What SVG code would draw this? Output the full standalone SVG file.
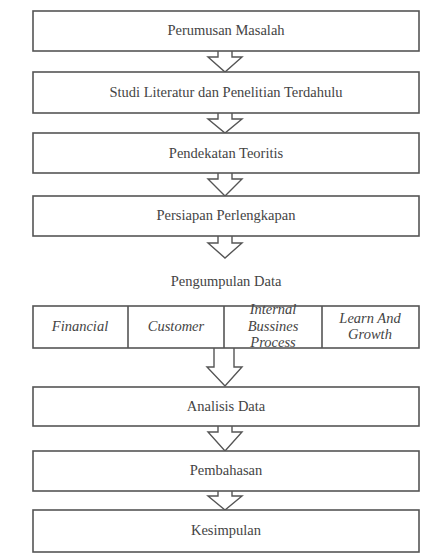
<svg xmlns="http://www.w3.org/2000/svg" width="439" height="557" viewBox="0 0 439 557">
<defs>
<style>
.box{fill:#fff;stroke:#555;stroke-width:1.6}
.arr{fill:#fff;stroke:#555;stroke-width:1.4;stroke-linejoin:miter}
.t{font-family:'Liberation Serif','Times New Roman',serif;font-size:14.5px;fill:#444;text-anchor:middle}
.i{font-style:italic}
</style>
</defs>
<rect width="439" height="557" fill="#fff"/>
<g id="connectors">
<path class="arr" d="M218,51 V57 H208 L225,72 L242,57 H232 V51"/>
<path class="arr" d="M218,113 V119 H208 L225,133 L242,119 H232 V113"/>
<path class="arr" d="M218,173 V179 H208 L225,196 L242,179 H232 V173"/>
<path class="arr" d="M218,236 V243 H208 L225,258 L242,243 H232 V236"/>
<path class="arr" d="M214,348 V367 H207 L225,386 L242,367 H234 V348"/>
<path class="arr" d="M218,426 V432 H208 L225,451 L242,432 H232 V426"/>
<path class="arr" d="M218,491 V496 H208 L225,510 L242,496 H232 V491"/>
</g>
<g id="n1"><rect class="box" x="33" y="11" width="386" height="40"/><text class="t" x="226" y="35">Perumusan Masalah</text></g>
<g id="n2"><rect class="box" x="33" y="72" width="386" height="41"/><text class="t" x="226" y="97">Studi Literatur dan Penelitian Terdahulu</text></g>
<g id="n3"><rect class="box" x="33" y="133" width="386" height="40"/><text class="t" x="226" y="158">Pendekatan Teoritis</text></g>
<g id="n4"><rect class="box" x="33" y="196" width="386" height="40"/><text class="t" x="226" y="220">Persiapan Perlengkapan</text></g>
<g id="n5"><text class="t" x="226" y="286">Pengumpulan Data</text></g>
<g id="n6">
<rect class="box" x="33" y="306" width="386" height="42"/>
<line class="box" x1="128" y1="306" x2="128" y2="348"/>
<line class="box" x1="224" y1="306" x2="224" y2="348"/>
<line class="box" x1="322" y1="306" x2="322" y2="348"/>
<text class="t i" x="80" y="331">Financial</text>
<text class="t i" x="176" y="331">Customer</text>
<text class="t i" x="273" y="314">Internal</text>
<text class="t i" x="273" y="331">Bussines</text>
<text class="t i" x="273" y="347">Process</text>
<text class="t i" x="370" y="323">Learn And</text>
<text class="t i" x="370" y="339">Growth</text>
</g>
<g id="n7"><rect class="box" x="33" y="387" width="386" height="39"/><text class="t" x="226" y="411">Analisis Data</text></g>
<g id="n8"><rect class="box" x="33" y="451" width="386" height="40"/><text class="t" x="226" y="475">Pembahasan</text></g>
<g id="n9"><rect class="box" x="33" y="510" width="386" height="42"/><text class="t" x="226" y="535">Kesimpulan</text></g>
</svg>
